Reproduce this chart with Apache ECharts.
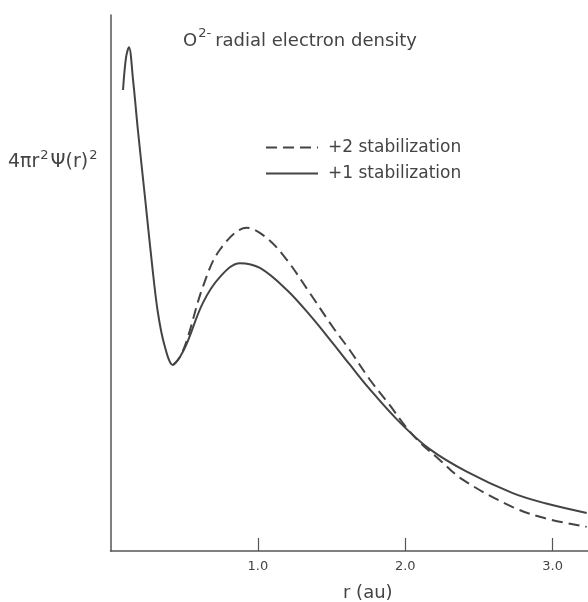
<!DOCTYPE html>
<html>
<head>
<meta charset="utf-8">
<script src="https://cdn.jsdelivr.net/npm/echarts@6/dist/echarts.min.js"></script>
<style>
html,body{margin:0;padding:0;background:#fff;}
#chart{width:588px;height:602px;}
</style>
</head>
<body>
<div id="chart"></div>
<script>
// r in atomic units, density in arbitrary units (axis has no value labels)
const commonR = [0.085, 0.105, 0.125, 0.153, 0.186, 0.234, 0.281, 0.322, 0.369, 0.424, 0.471];
const commonD = [8.60, 9.20, 9.40, 8.79, 7.85, 6.60, 5.37, 4.44, 3.81, 3.47, 3.62];

const plus1R = [0.519, 0.627, 0.742, 0.878, 1.014, 1.197, 1.353, 1.508, 1.623, 1.759, 1.963, 2.166, 2.417, 2.729, 2.950, 3.231];
const plus1D = [3.88, 4.63, 5.11, 5.37, 5.28, 4.87, 4.40, 3.88, 3.48, 3.02, 2.40, 1.90, 1.48, 1.08, 0.89, 0.71];

const plus2R = [0.519, 0.627, 0.742, 0.925, 1.061, 1.197, 1.353, 1.508, 1.623, 1.759, 1.895, 2.000, 2.098, 2.234, 2.390, 2.729, 2.950, 3.231];
const plus2D = [3.94, 4.93, 5.62, 6.03, 5.84, 5.43, 4.81, 4.18, 3.75, 3.20, 2.72, 2.33, 2.03, 1.70, 1.33, 0.82, 0.61, 0.45];

const xTicks = [1.0, 2.0, 3.0];
const seriesNames = ['+2 stabilization', '+1 stabilization'];

const pairs = (r, d) => r.map((v, i) => [v, d[i]]);
const solidData = pairs(commonR.concat(plus1R), commonD.concat(plus1D));
const dashedData = pairs(commonR.slice(-2).concat(plus2R), commonD.slice(-2).concat(plus2D));

const ink = '#444';
const font = 'DejaVu Sans';
const chart = echarts.init(document.getElementById('chart'));
chart.setOption({
  backgroundColor: '#fff',
  animation: false,
  textStyle: { fontFamily: font, color: ink },
  grid: { left: 110.5, right: 0, top: 15, bottom: 51, containLabel: false },
  legend: {
    data: seriesNames,
    orient: 'vertical',
    left: 265, top: 139, padding: 0,
    itemWidth: 52, itemHeight: 14, itemGap: 9,
    itemStyle: { opacity: 0 },
    textStyle: { fontFamily: font, fontSize: 17, color: ink, padding: [0, 0, 0, 5] }
  },
  xAxis: {
    type: 'value', min: 0, max: 3.24, interval: 1,
    splitLine: { show: false },
    axisLine: { lineStyle: { color: '#555', width: 1.5 } },
    axisTick: { inside: true, length: 13, lineStyle: { color: '#555', width: 1.2 },
      customValues: xTicks },
    axisLabel: { customValues: xTicks, fontFamily: font, fontSize: 13, color: ink, margin: 9,
      formatter: v => v.toFixed(1) }
  },
  yAxis: {
    type: 'value', min: 0, max: 10,
    splitLine: { show: false },
    axisLine: { show: true, lineStyle: { color: '#555', width: 1.5 } },
    axisTick: { show: false },
    axisLabel: { show: false }
  },
  series: [
    { name: seriesNames[0], type: 'line', data: dashedData, smooth: 0.35, symbol: 'none',
      lineStyle: { color: ink, width: 2, type: [11, 6] }, itemStyle: { color: ink } },
    { name: seriesNames[1], type: 'line', data: solidData, smooth: 0.35, symbol: 'none',
      lineStyle: { color: ink, width: 2 }, itemStyle: { color: ink } }
  ],
  graphic: [
    { type: 'text', left: 183, top: 27,
      style: { text: '{b|O}{s|2-}{b|radial electron density}',
        rich: { b: { fontFamily: font, fontSize: 18, fill: ink, verticalAlign: 'bottom' },
                s: { fontFamily: font, fontSize: 13, fill: ink, verticalAlign: 'top', padding: [0, 4, 10, 1] } } } },
    { type: 'text', left: 8, top: 149,
      style: { text: '{b|4πr}{s|2}{b|Ψ(r)}{s|2}',
        rich: { b: { fontFamily: font, fontSize: 19, fill: ink, verticalAlign: 'bottom' },
                s: { fontFamily: font, fontSize: 13, fill: ink, verticalAlign: 'top', padding: [0, 2, 10, 1] } } } },
    { type: 'text', left: 343, top: 584,
      style: { text: 'r (au)', fontFamily: font, fontSize: 18, fill: ink } }
  ]
});
</script>
</body>
</html>
